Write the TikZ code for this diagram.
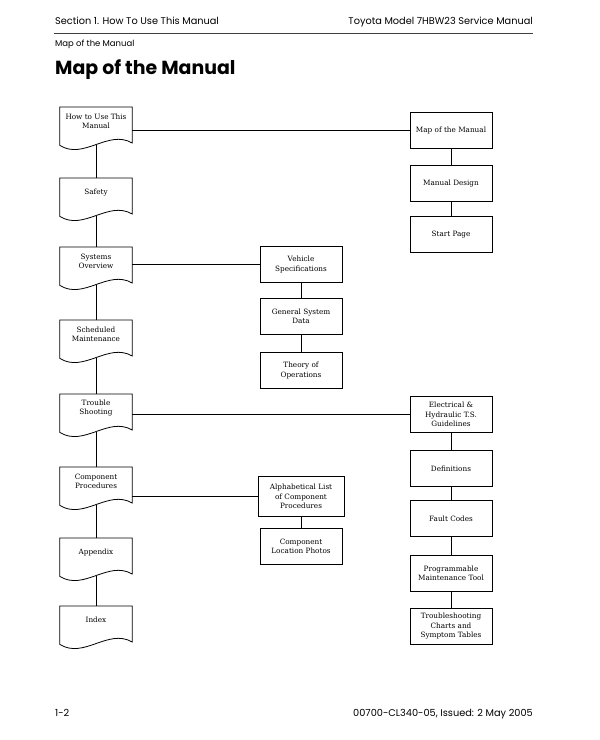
\documentclass[tikz,border=0pt]{standalone}
\usepackage{fontspec}
\setmainfont{DejaVu Serif}
\newfontfamily\headfont{Poppins}
\usetikzlibrary{calc}

\begin{document}
\begin{tikzpicture}[x=1bp,y=1bp,
    docbox/.style={minimum width=72bp, minimum height=28bp, inner sep=1bp,
        align=center, anchor=north, font=\fontsize{7.3}{9.6}\selectfont},
    topicbox/.style={draw, line width=0.8bp, minimum width=82bp, minimum height=36bp,
        inner sep=1bp, align=center, anchor=north, font=\fontsize{7.3}{9.6}\selectfont},
    pagetext/.style={inner sep=0pt, font=\headfont\fontsize{9.8}{11}\selectfont},
    link/.style={line width=0.8bp}]
    \useasboundingbox (0,0) rectangle (600,-740);

    % Page header
    \node[pagetext, anchor=base west] (section) at (55,-25) {Section 1. How To Use This Manual};
    \node[pagetext, anchor=base east] (model) at (533,-25) {Toyota Model 7HBW23 Service Manual};
    \draw[line width=1bp, black!75] (54,-33.5) -- (533,-33.5);
    \node[pagetext, anchor=base west, font=\headfont\fontsize{8.5}{10}\selectfont] (crumb) at (55,-47) {Map of the Manual};
    \node[pagetext, anchor=base west, font=\headfont\bfseries\fontsize{19}{22}\selectfont] (title) at (55,-74) {Map of the Manual};

    % Main sections (document shapes)
    \node[docbox] (howto) at (96,-107) {How to Use This\\Manual};
    \node[docbox] (safety) at (96,-178) {Safety};
    \node[docbox] (systems) at (96,-247) {Systems\\Overview};
    \node[docbox] (sched) at (96,-320) {Scheduled\\Maintenance};
    \node[docbox] (trouble) at (96,-394) {Trouble\\Shooting};
    \node[docbox] (comp) at (96,-467) {Component\\Procedures};
    \node[docbox] (appendix) at (96,-538) {Appendix};
    \node[docbox] (index) at (96,-606) {Index};

    % Wavy outlines
    \foreach \n in {howto,safety,systems,sched,trouble,comp,appendix,index}{
        \draw[link] (\n.south west) ++(0,-10) -- (\n.north west) -- (\n.north east) -- ++(0,-36)
            .. controls +(-24,14) and +(24,-15) .. ($(\n.south west)+(0,-10)$) -- cycle;
    }

    % Middle column
    \node[topicbox] (vehicle) at (301,-246) {Vehicle\\Specifications};
    \node[topicbox] (general) at (301,-298) {General System\\Data};
    \node[topicbox] (theory) at (301,-352) {Theory of\\Operations};
    \node[topicbox, minimum height=40bp, minimum width=86bp] (alpha) at (301,-476) {Alphabetical List\\of Component\\Procedures};
    \node[topicbox] (photos) at (301,-528) {Component\\Location Photos};

    % Right column
    \node[topicbox] (map) at (451,-112) {Map of the Manual};
    \node[topicbox] (design) at (451,-165) {Manual Design};
    \node[topicbox] (start) at (451,-216) {Start Page};
    \node[topicbox] (elec) at (451,-396) {Electrical \&\\Hydraulic T.S.\\Guidelines};
    \node[topicbox] (defs) at (451,-450) {Definitions};
    \node[topicbox] (fault) at (451,-500) {Fault Codes};
    \node[topicbox] (tool) at (451,-555) {Programmable\\Maintenance Tool};
    \node[topicbox] (charts) at (451,-608) {Troubleshooting\\Charts and\\Symptom Tables};

    % Connectors down the left column
    \foreach \a/\b in {howto/safety,safety/systems,systems/sched,sched/trouble,
                       trouble/comp,comp/appendix,appendix/index}
        \draw[link] (\a.south) ++(0,-10) -- (\b.north);

    % Connectors down the other columns
    \foreach \a/\b in {vehicle/general,general/theory,alpha/photos,map/design,design/start,
                       elec/defs,defs/fault,fault/tool,tool/charts}
        \draw[link] (\a.south) -- (\b.north);

    % Branches
    \draw[link] (map.west) -- (howto.east |- map.west);
    \draw[link] (vehicle.west) -- (systems.east |- vehicle.west);
    \draw[link] (elec.west) -- (trouble.east |- elec.west);
    \draw[link] (alpha.west) -- (comp.east |- alpha.west);

    % Page footer
    \node[pagetext, anchor=base west] (page) at (55,-716) {1-2};
    \node[pagetext, anchor=base east] (issue) at (533,-716) {00700-CL340-05, Issued: 2 May 2005};
\end{tikzpicture}
\end{document}
